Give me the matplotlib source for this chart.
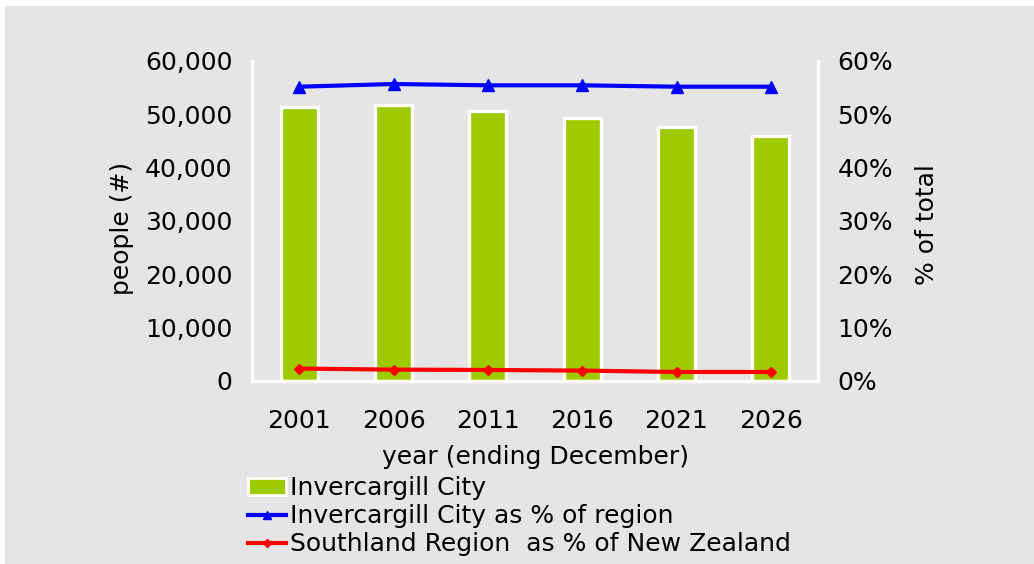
import matplotlib
matplotlib.use("Agg")
import matplotlib.pyplot as plt
from matplotlib.patches import Rectangle, Patch
from matplotlib.lines import Line2D
from matplotlib.ticker import FuncFormatter

years = ["2001", "2006", "2011", "2016", "2021", "2026"]
population = [51300, 51750, 50600, 49260, 47630, 45920]
city_pct_region = [55.13, 55.63, 55.39, 55.39, 55.13, 55.13]
region_pct_nz = [2.33, 2.13, 2.07, 1.95, 1.69, 1.69]

GRAY = "#e5e5e5"
GREEN = "#9dcb00"
FS = 18

plt.rcParams['font.family'] = ['DejaVu Sans']

W, H = 1034, 564
fig = plt.figure(figsize=(W / 100, H / 100), dpi=100, facecolor="white")
fig.patches.append(Rectangle((5 / W, 0), 1 - 5 / W, 1 - 6 / H, transform=fig.transFigure,
                             facecolor=GRAY, edgecolor="none", zorder=-10))

ax = fig.add_axes([252 / W, 1 - 381 / H, (818 - 252) / W, (381 - 60.7) / H])
ax.set_facecolor(GRAY)
x = list(range(len(years)))
ax.bar(x, population, width=0.39, color=GREEN, edgecolor="white", linewidth=2.4, zorder=2)
ax.set_xlim(-0.5, len(years) - 0.5)
ax.set_ylim(0, 60000)
ax.set_yticks(range(0, 60001, 10000))
ax.yaxis.set_major_formatter(FuncFormatter(lambda v, p: f"{int(v):,}"))
ax.set_xticks(x)
ax.set_xticklabels(years)
ax.tick_params(axis="x", length=0, labelsize=FS, pad=20)
ax.tick_params(axis="y", length=0, labelsize=FS, pad=14)
for s in ["top", "right"]:
    ax.spines[s].set_visible(False)
for s in ["left", "bottom"]:
    ax.spines[s].set_color("white")
    ax.spines[s].set_linewidth(2.4)
ax.set_ylabel("people (#)", fontsize=FS)
ax.yaxis.set_label_coords(-0.209, 0.475)
ax.set_xlabel("year (ending December)", fontsize=FS, labelpad=9)

ax2 = ax.twinx()
ax2.set_ylim(0, 60)
ax2.set_yticks(range(0, 61, 10))
ax2.yaxis.set_major_formatter(FuncFormatter(lambda v, p: f"{int(v)}%"))
ax2.tick_params(axis="y", length=0, labelsize=FS, pad=14)
for s in ["top", "left", "bottom"]:
    ax2.spines[s].set_visible(False)
ax2.spines["right"].set_color("white")
ax2.spines["right"].set_linewidth(2.4)
ax2.plot(x, city_pct_region, color="#0000ff", lw=3, marker="^", ms=8, zorder=3)
ax2.plot(x, region_pct_nz, color="#ff0000", lw=3, marker="D", ms=5, zorder=3)
ax2.set_ylabel("% of total", fontsize=FS)
ax2.yaxis.set_label_coords(1.171, 0.4875)

handles = [
    Patch(facecolor=GREEN, edgecolor="white", linewidth=2),
    Line2D([], [], color="#0000ff", lw=3, marker="^", ms=6),
    Line2D([], [], color="#ff0000", lw=3, marker="D", ms=4),
]
labels = ["Invercargill City", "Invercargill City as % of region",
          "Southland Region  as % of New Zealand"]
fig.legend(handles, labels, loc="upper left", bbox_to_anchor=(238 / W, 1 - 466 / H),
           frameon=False, fontsize=FS, handlelength=1.5, handletextpad=0.2,
           labelspacing=0.17, borderaxespad=0)

fig.savefig("out.png", dpi=100, facecolor="white")
